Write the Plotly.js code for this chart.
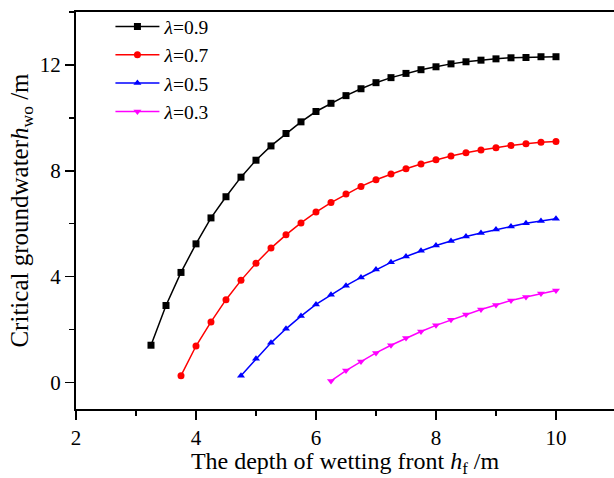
<!DOCTYPE html>
<html>
<head>
<meta charset="utf-8">
<script src="https://cdn.plot.ly/plotly-3.0.1.min.js"></script>
<style>html,body{margin:0;padding:0;background:#fff;}#chart{width:614px;height:478px;}</style>
</head>
<body>
<div id="chart"></div>
<script>
var x09 = [3.25,3.5,3.75,4.0,4.25,4.5,4.75,5.0,5.25,5.5,5.75,6.0,6.25,6.5,6.75,7.0,7.25,7.5,7.75,8.0,8.25,8.5,8.75,9.0,9.25,9.5,9.75,10.0];
var y09 = [1.41,2.91,4.16,5.24,6.22,7.02,7.76,8.40,8.94,9.41,9.85,10.24,10.55,10.84,11.10,11.33,11.52,11.68,11.82,11.93,12.04,12.12,12.18,12.23,12.27,12.28,12.31,12.31];
var x07 = [3.75,4.0,4.25,4.5,4.75,5.0,5.25,5.5,5.75,6.0,6.25,6.5,6.75,7.0,7.25,7.5,7.75,8.0,8.25,8.5,8.75,9.0,9.25,9.5,9.75,10.0];
var y07 = [0.26,1.38,2.29,3.13,3.86,4.51,5.08,5.58,6.03,6.44,6.80,7.12,7.41,7.66,7.88,8.08,8.26,8.42,8.56,8.68,8.79,8.87,8.96,9.02,9.08,9.11];
var x05 = [4.75,5.0,5.25,5.5,5.75,6.0,6.25,6.5,6.75,7.0,7.25,7.5,7.75,8.0,8.25,8.5,8.75,9.0,9.25,9.5,9.75,10.0];
var y05 = [0.26,0.90,1.50,2.03,2.51,2.95,3.32,3.66,3.97,4.27,4.54,4.76,4.98,5.18,5.35,5.52,5.65,5.78,5.90,6.02,6.10,6.19];
var x03 = [6.25,6.5,6.75,7.0,7.25,7.5,7.75,8.0,8.25,8.5,8.75,9.0,9.25,9.5,9.75,10.0];
var y03 = [0.06,0.45,0.79,1.12,1.41,1.68,1.93,2.16,2.37,2.57,2.76,2.93,3.10,3.23,3.36,3.48];
var names = ['<i>λ</i>=0.9','<i>λ</i>=0.7','<i>λ</i>=0.5','<i>λ</i>=0.3'];
var colors = ['#000000','#ff0000','#0000ff','#ff00ff'];
var symbols = ['square','circle','triangle-up','triangle-down'];
var xs = [x09,x07,x05,x03], ys = [y09,y07,y05,y03];

var traces = xs.map(function(x,i){
  return {x:x, y:ys[i], name:names[i], type:'scatter', mode:'lines+markers',
    line:{color:colors[i], width:1.5},
    marker:{color:colors[i], symbol:symbols[i], size:7}};
});

var font = 'Liberation Serif, Times New Roman, serif';
var layout = {
  width:614, height:478,
  margin:{l:76, r:0, t:12, b:69},
  paper_bgcolor:'#fff', plot_bgcolor:'#fff',
  font:{family:font, size:20, color:'#000'},
  showlegend:true,
  legend:{x:0.064, y:1.012, xanchor:'left', yanchor:'top', bgcolor:'rgba(0,0,0,0)', borderwidth:0,
    font:{family:font, size:19.5, color:'#000'}, itemwidth:44, tracegroupgap:0},
  xaxis:{range:[2,10.967], showgrid:false, zeroline:false, showline:true, linewidth:2, linecolor:'#000', mirror:true,
    ticks:'outside', ticklen:9, tickwidth:1.5, tickcolor:'#000', dtick:2, tick0:2,
    minor:{ticks:'outside', ticklen:5, tickwidth:1.5, tickcolor:'#000', dtick:1, showgrid:false},
    tickfont:{family:font, size:21, color:'#000'},
    title:{text:'The depth of wetting front <i>h</i><sub>f</sub> /m', font:{family:font, size:24, color:'#000'}, standoff:9}},
  yaxis:{range:[-1,14], showgrid:false, zeroline:false, showline:true, linewidth:2, linecolor:'#000',
    ticks:'outside', ticklen:9, tickwidth:1.5, tickcolor:'#000', dtick:4, tick0:0,
    minor:{ticks:'outside', ticklen:5, tickwidth:1.5, tickcolor:'#000', dtick:2, showgrid:false},
    tickfont:{family:font, size:21, color:'#000'},
    title:{text:'Critical groundwater<i>h</i><sub>wo</sub> /m', font:{family:font, size:25, color:'#000'}, standoff:4}}
};
Plotly.newPlot('chart', traces, layout, {displayModeBar:false, staticPlot:true});
</script>
</body>
</html>
